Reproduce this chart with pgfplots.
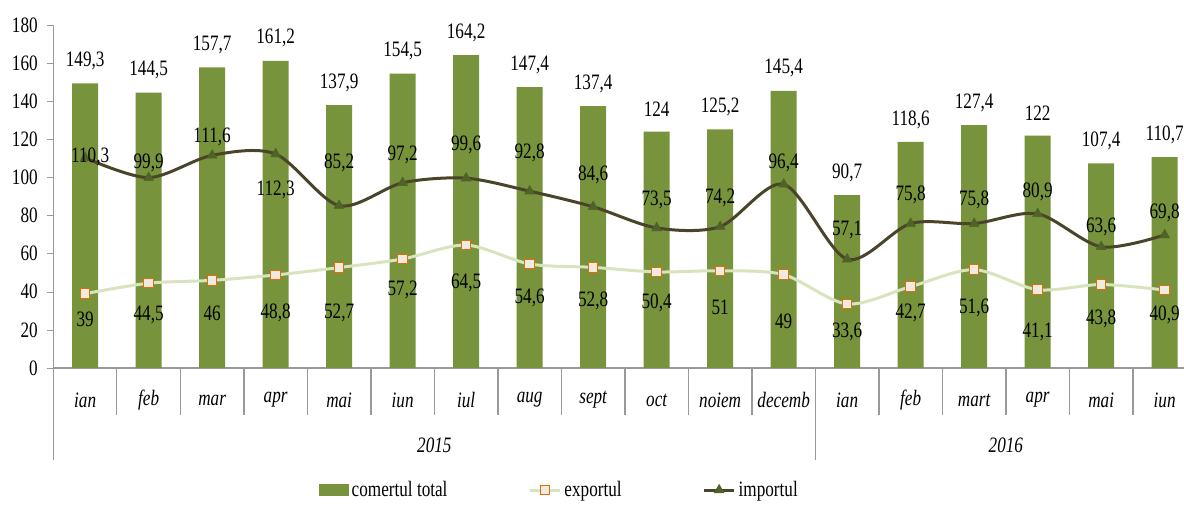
\documentclass[border=0pt]{standalone}
\usepackage{pgfplots}
\pgfplotsset{compat=1.18}
\usepackage{pgfplotstable}
\usepackage{fontspec}
\setmainfont{Liberation Serif}[FakeStretch=0.78]
\definecolor{barc}{RGB}{119,147,60}
\definecolor{expl}{RGB}{215,228,189}
\definecolor{expf}{RGB}{238,236,225}
\definecolor{expd}{RGB}{228,108,10}
\definecolor{impl}{RGB}{74,69,42}
\definecolor{impf}{RGB}{79,98,40}

\pgfplotstableread{
x y lab
0 149.3 149,3
1 144.5 144,5
2 157.7 157,7
3 161.2 161,2
4 137.9 137,9
5 154.5 154,5
6 164.2 164,2
7 147.4 147,4
8 137.4 137,4
9 124 124
10 125.2 125,2
11 145.4 145,4
12 90.7 90,7
13 118.6 118,6
14 127.4 127,4
15 122 122
16 107.4 107,4
17 110.7 110,7
}\bars

\pgfplotstableread{
x y lab dx dy
0 39 39 0 -13
1 44.5 44,5 0 -16
2 46 46 0 -16.5
3 48.8 48,8 0 -19
4 52.7 52,7 0 -22.5
5 57.2 57,2 0 -15.5
6 64.5 64,5 0 -19
7 54.6 54,6 0 -17
8 52.8 52,8 0 -16.5
9 50.4 50,4 0 -15.5
10 51 51 0 -18.5
11 49 49 0 -23.5
12 33.6 33,6 0 -14
13 42.7 42,7 0 -13
14 51.6 51,6 0 -19
15 41.1 41,1 0 -21
16 43.8 43,8 0 -17
17 40.9 40,9 0 -12.5
}\export

\pgfplotstableread{
x y lab dx dy
0 110.3 110,3 2.5 0.5
1 99.9 99,9 0 7.5
2 111.6 111,6 0 9
3 112.3 112,3 0 -18
4 85.2 85,2 0 21.5
5 97.2 97,2 0 14
6 99.6 99,6 0 16.5
7 92.8 92,8 0 19
8 84.6 84,6 0 16
9 73.5 73,5 0 14
10 74.2 74,2 0 14.5
11 96.4 96,4 0 10.5
12 57.1 57,1 0 14.5
13 75.8 75,8 0 14.5
14 75.8 75,8 0 12
15 80.9 80,9 0 11
16 63.6 63,6 0 10
17 69.8 69,8 0 11
}\import

\begin{document}
\fontsize{11}{13}\selectfont
\begin{tikzpicture}[font=\fontsize{11}{13}\selectfont]
\begin{axis}[
  at={(26.7pt,69pt)}, anchor=south west,
  scale only axis, width=571.5pt, height=171.5pt,
  xmin=-0.5, xmax=17.5, ymin=0, ymax=180,
  clip=false,
  axis lines*=left,
  axis line style={draw=gray!80, line width=0.6pt},
  ytick={0,20,...,180},
  ytick align=outside, ytick pos=left,
  major tick length=3pt,
  tick style={draw=gray!80},
  xtick={0,...,17},
  xticklabels={ian,feb,mar,apr,mai,iun,iul,aug,sept,oct,noiem,decemb,ian,feb,mart,apr,mai,iun},
  x tick style={draw=none},
  xticklabel style={anchor=center, yshift=-16pt, font=\itshape},
  /pgf/number format/assume math mode=true,
  yticklabel style={xshift=-1pt},
  legend style={draw=none, fill=none, at={(0.443,-0.356)}, anchor=center,
    nodes={inner xsep=1.5pt},
    /tikz/every even column/.append style={column sep=39pt}},
  legend columns=3,
  legend cell align=left,
]
\addplot[ybar, bar width=13pt, fill=barc, draw=none,
  point meta=explicit symbolic,
  nodes near coords={\pgfplotspointmeta},
  every node near coord/.append style={anchor=center, yshift=11.25pt, text=black},
  legend image code/.code={\fill[barc] (0pt,-3pt) rectangle (15pt,3pt);}
] table[x=x, y=y, meta=lab] {\bars};
\addlegendentry{comertul total}

\addplot[color=expl, line width=1.5pt, smooth, tension=0.5,
  mark=square*, mark size=2.4pt,
  mark options={fill=expf, draw=expd, line width=0.5pt, solid},
  point meta=explicit symbolic,
  visualization depends on={\thisrow{dx} \as \dx},
  visualization depends on={\thisrow{dy} \as \dy},
  nodes near coords={\pgfplotspointmeta},
  every node near coord/.append style={anchor=center, xshift=\dx pt, yshift=\dy pt, text=black},
  legend image code/.code={\draw[mark repeat=2,mark phase=2] plot coordinates {(0pt,0pt)(7.5pt,0pt)(15pt,0pt)};}
] table[x=x, y=y, meta=lab] {\export};
\addlegendentry{exportul}

\addplot[color=impl, line width=1.5pt, smooth, tension=0.5,
  mark=triangle*, mark size=2.8pt,
  mark options={fill=impf, draw=impf, line width=0.3pt, solid},
  point meta=explicit symbolic,
  visualization depends on={\thisrow{dx} \as \dx},
  visualization depends on={\thisrow{dy} \as \dy},
  nodes near coords={\pgfplotspointmeta},
  every node near coord/.append style={anchor=center, xshift=\dx pt, yshift=\dy pt, text=black},
  legend image code/.code={\draw[mark repeat=2,mark phase=2] plot coordinates {(0pt,0pt)(7.5pt,0pt)(15pt,0pt)};}
] table[x=x, y=y, meta=lab] {\import};
\addlegendentry{importul}

\pgfplotsinvokeforeach{0.5,1.5,2.5,3.5,4.5,5.5,6.5,7.5,8.5,9.5,10.5,12.5,13.5,14.5,15.5,16.5}{
  \draw[gray!80, line width=0.6pt] (axis cs:#1,0) -- ++(0pt,-23.5pt);
}
\draw[gray!80, line width=0.6pt] (axis cs:-0.5,0) -- ++(0pt,-46pt);
\draw[gray!80, line width=0.6pt] (axis cs:11.5,0) -- ++(0pt,-46pt);
\node[font=\itshape] at ([yshift=-38.5pt]axis cs:5.5,0) {2015};
\node[font=\itshape] at ([yshift=-38.5pt]axis cs:14.5,0) {2016};
\end{axis}
\pgfresetboundingbox
\useasboundingbox (0,0) rectangle (592pt,253pt);
\end{tikzpicture}
\end{document}
